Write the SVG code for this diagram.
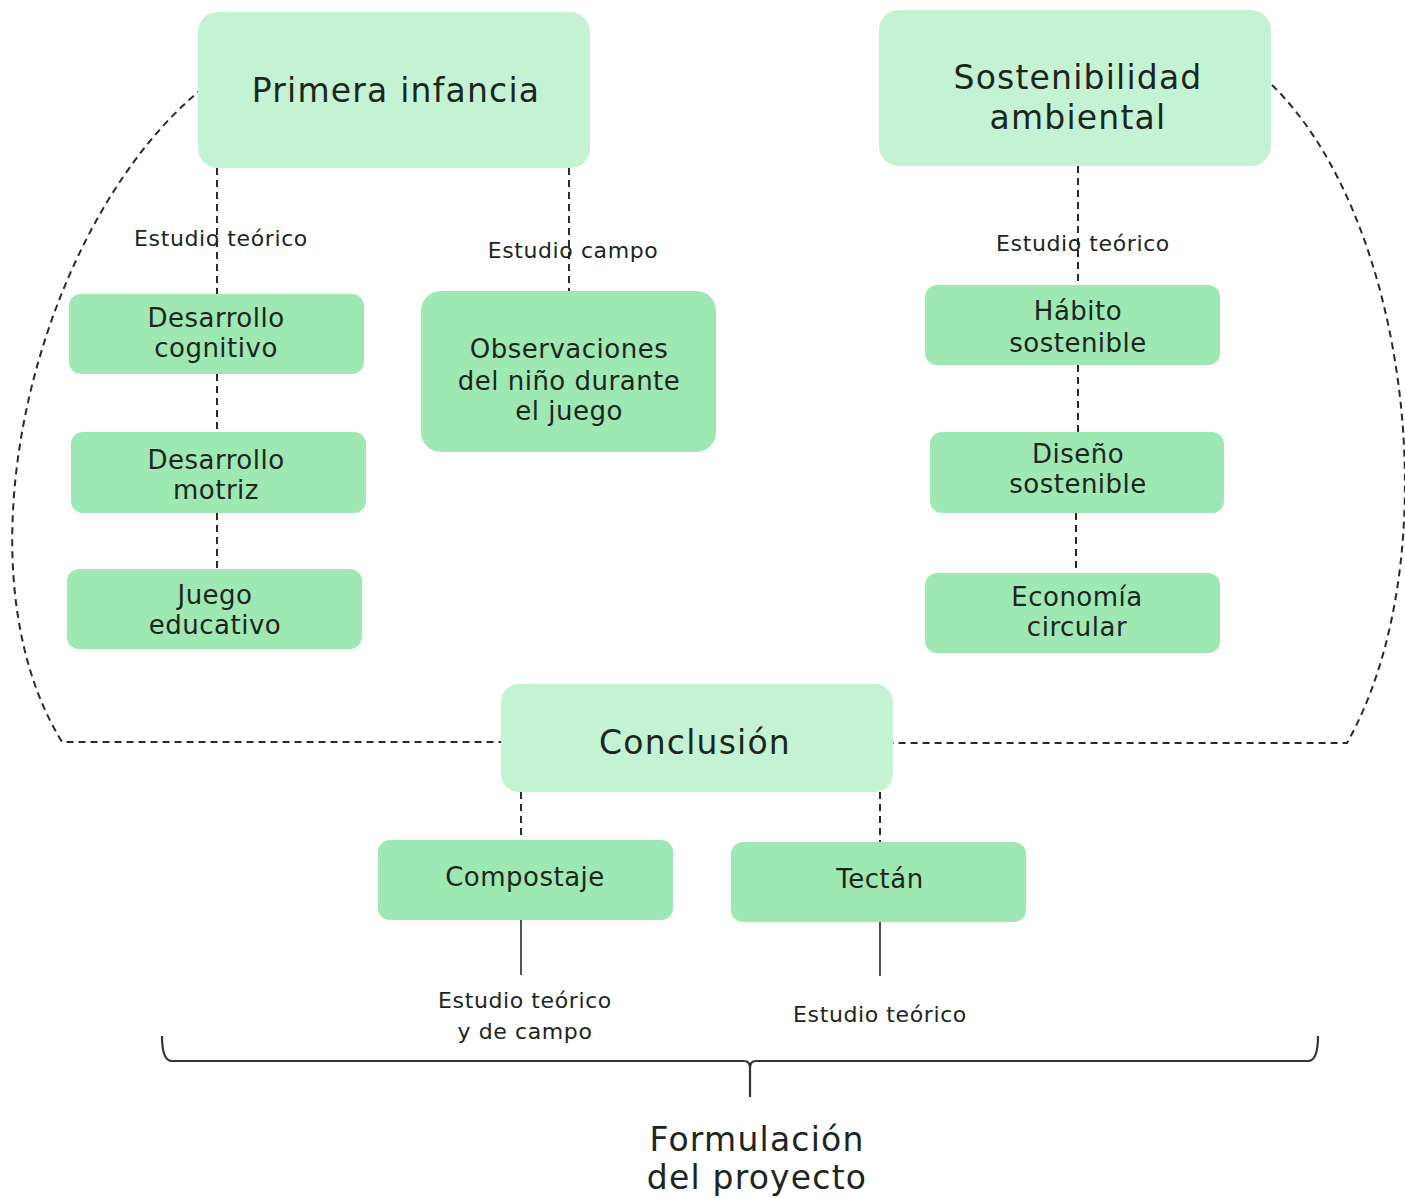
<svg xmlns="http://www.w3.org/2000/svg" width="1405" height="1198" viewBox="0 0 1405 1198">
<style>
.light{fill:#c3f3d3}
.dark{fill:#9ee9b3}
text{font-family:"DejaVu Sans","Liberation Sans",sans-serif;fill:#1c261e;text-anchor:middle}
.t1{font-size:33px;letter-spacing:1.2px}
.t2{font-size:26px;letter-spacing:0.5px}
.t3{font-size:22px;letter-spacing:0.6px}
.dash{fill:none;stroke:#2a2a2a;stroke-width:2;stroke-dasharray:7 5}
.solid{fill:none;stroke:#2a2a2a;stroke-width:1.6}
.brace{fill:none;stroke:#333;stroke-width:2.2}
</style>
<rect width="1405" height="1198" fill="#fff"/>
<g id="connectors">
<path class="dash" d="M203,88 C40,220 -50,560 62,742 L501,742"/>
<path class="dash" d="M1272,85 C1410,220 1450,560 1347,743 L893,743"/>
<path class="dash" d="M217,168 V294 M217,374 V432 M217,513 V569"/>
<path class="dash" d="M569,168 V291"/>
<path class="dash" d="M1078,166 V285 M1078,365 V432 M1076,513 V573"/>
<path class="dash" d="M521,792 V840 M880,792 V842"/>
<path class="solid" d="M521,920 V975 M880,922 V976"/>
<path class="brace" d="M162,1036 Q162,1061 172,1061 L744,1061 Q750,1061 750,1068 L750,1097 M750,1068 Q750,1061 756,1061 L1308,1061 Q1318,1061 1318,1036"/>
<text class="t3" x="221" y="246">Estudio teórico</text>
<text class="t3" x="573" y="258">Estudio campo</text>
<text class="t3" x="1083" y="251">Estudio teórico</text>
<text class="t3" x="525" y="1008">Estudio teórico</text>
<text class="t3" x="525" y="1039">y de campo</text>
<text class="t3" x="880" y="1022">Estudio teórico</text>
</g>
<g id="primera">
<rect class="light" x="198" y="12" width="392" height="156" rx="20"/>
<text class="t1" x="396" y="102">Primera infancia</text>
</g>
<g id="sostenibilidad">
<rect class="light" x="879" y="10" width="392" height="156" rx="20"/>
<text class="t1" x="1078" y="89">Sostenibilidad</text>
<text class="t1" x="1078" y="129">ambiental</text>
</g>
<g id="cognitivo">
<rect class="dark" x="69" y="294" width="295" height="80" rx="12"/>
<text class="t2" x="216" y="327">Desarrollo</text>
<text class="t2" x="216" y="357">cognitivo</text>
</g>
<g id="motriz">
<rect class="dark" x="71" y="432" width="295" height="81" rx="12"/>
<text class="t2" x="216" y="469">Desarrollo</text>
<text class="t2" x="216" y="499">motriz</text>
</g>
<g id="juego">
<rect class="dark" x="67" y="569" width="295" height="80" rx="12"/>
<text class="t2" x="215" y="604">Juego</text>
<text class="t2" x="215" y="634">educativo</text>
</g>
<g id="observaciones">
<rect class="dark" x="421" y="291" width="295" height="161" rx="20"/>
<text class="t2" x="569" y="358">Observaciones</text>
<text class="t2" x="569" y="390">del niño durante</text>
<text class="t2" x="569" y="420">el juego</text>
</g>
<g id="habito">
<rect class="dark" x="925" y="285" width="295" height="80" rx="12"/>
<text class="t2" x="1078" y="320">Hábito</text>
<text class="t2" x="1078" y="352">sostenible</text>
</g>
<g id="diseno">
<rect class="dark" x="930" y="432" width="294" height="81" rx="12"/>
<text class="t2" x="1078" y="463">Diseño</text>
<text class="t2" x="1078" y="493">sostenible</text>
</g>
<g id="economia">
<rect class="dark" x="925" y="573" width="295" height="80" rx="12"/>
<text class="t2" x="1077" y="606">Economía</text>
<text class="t2" x="1077" y="636">circular</text>
</g>
<g id="conclusion">
<rect class="light" x="501" y="684" width="392" height="108" rx="18"/>
<text class="t1" x="695" y="754">Conclusión</text>
</g>
<g id="compostaje">
<rect class="dark" x="378" y="840" width="295" height="80" rx="12"/>
<text class="t2" x="525" y="886">Compostaje</text>
</g>
<g id="tectan">
<rect class="dark" x="731" y="842" width="295" height="80" rx="12"/>
<text class="t2" x="880" y="888">Tectán</text>
</g>
<g id="formulacion">
<text class="t1" x="757" y="1151">Formulación</text>
<text class="t1" x="757" y="1189">del proyecto</text>
</g>
</svg>
